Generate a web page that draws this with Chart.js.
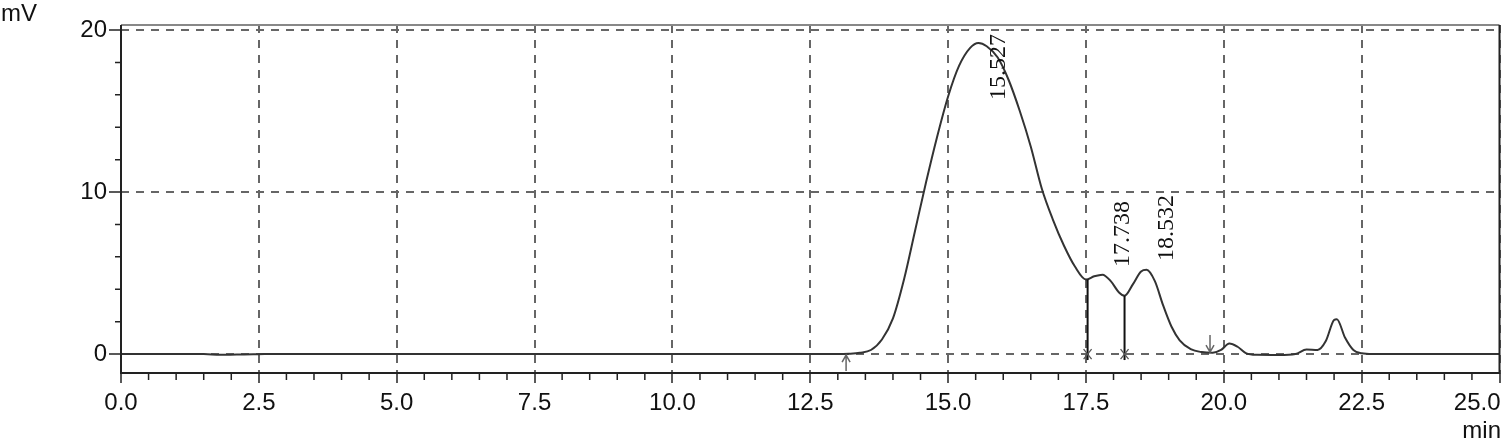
<!DOCTYPE html>
<html lang="en">
<head>
<meta charset="UTF-8">
<script src="https://cdn.jsdelivr.net/npm/chart.js@4.4.1/dist/chart.umd.min.js"></script>
<title>Chromatogram</title>
<style>
  html, body { margin: 0; padding: 0; background: #fff; }
</style>
</head>
<body>
<canvas id="chart" width="1505" height="442"></canvas>
<script>
// retention time (min) and detector signal (mV)
const times = [0, 1.5, 1.8, 2.1, 2.4, 2.6, 5, 10, 13.0, 13.2, 13.4, 13.6, 13.8, 14.0, 14.2, 14.4, 14.6, 14.8,
  15.0, 15.2, 15.4, 15.55, 15.7, 15.9, 16.1, 16.3, 16.5, 16.7, 16.9, 17.1, 17.3, 17.5, 17.65, 17.8, 17.95,
  18.1, 18.2, 18.35, 18.5, 18.6, 18.75, 18.9, 19.05, 19.2, 19.4, 19.6, 19.8, 19.95, 20.1, 20.25, 20.4,
  20.6, 21.0, 21.3, 21.5, 21.7, 21.85, 22.0, 22.05, 22.2, 22.35, 22.5, 22.7, 25];
const signal = [0, 0, -0.05, -0.03, -0.02, 0, 0, 0, 0, 0.02, 0.08, 0.25, 0.9, 2.2, 4.6, 7.6, 10.6, 13.4,
  15.9, 17.8, 18.9, 19.2, 19.0, 18.3, 16.9, 15.0, 12.8, 10.2, 8.3, 6.7, 5.4, 4.6, 4.8, 4.9, 4.5,
  3.8, 3.6, 4.3, 5.1, 5.2, 4.5, 3.0, 1.7, 0.85, 0.3, 0.12, 0.08, 0.25, 0.65, 0.45, 0.06,
  -0.05, -0.06, 0.0, 0.28, 0.25, 0.8, 2.1, 2.15, 1.0, 0.25, 0.05, 0, 0];

const xTicks = [0, 2.5, 5, 7.5, 10, 12.5, 15, 17.5, 20, 22.5, 25];
const yTicks = [0, 10, 20];

const peakLabels = ['15.527', '17.738', '18.532'];
const peakLabelX = [15.92, 18.17, 18.97];
const peakLabelY = [15.68, 5.37, 5.74];

const dropTimes = [17.53, 18.2];
const dropLevels = [4.6, 3.6];
const startTime = 13.15;
const endTime = 19.75;

const sans = '"Liberation Sans", Arial, sans-serif';
const serif = '"Liberation Serif", "Times New Roman", serif';

const extras = {
  id: 'extras',
  afterDatasetsDraw(chart) {
    const ctx = chart.ctx;
    const xs = chart.scales.x, ys = chart.scales.y;
    const area = chart.chartArea;
    const y0 = ys.getPixelForValue(0);
    ctx.save();

    // minor ticks
    ctx.strokeStyle = '#222';
    ctx.lineWidth = 1.5;
    ctx.beginPath();
    for (let v = 0.5; v < 25; v += 0.5) {
      if (xTicks.includes(v)) continue;
      const px = xs.getPixelForValue(v);
      ctx.moveTo(px, area.bottom);
      ctx.lineTo(px, area.bottom + 7);
    }
    for (let v = 2; v < 20; v += 2) {
      if (yTicks.includes(v)) continue;
      const py = ys.getPixelForValue(v);
      ctx.moveTo(area.left - 6, py);
      ctx.lineTo(area.left, py);
    }
    ctx.stroke();

    // drop lines with x marks
    dropTimes.forEach((t, i) => {
      const px = xs.getPixelForValue(t);
      ctx.strokeStyle = '#111';
      ctx.lineWidth = 2;
      ctx.beginPath();
      ctx.moveTo(px, ys.getPixelForValue(dropLevels[i]));
      ctx.lineTo(px, y0 + 6);
      ctx.stroke();
      ctx.lineWidth = 1.3;
      ctx.strokeStyle = '#555';
      ctx.beginPath();
      ctx.moveTo(px - 4, y0 - 5); ctx.lineTo(px + 4, y0 + 5);
      ctx.moveTo(px + 4, y0 - 5); ctx.lineTo(px - 4, y0 + 5);
      ctx.stroke();
    });

    // start / end arrows
    ctx.strokeStyle = '#666';
    ctx.lineWidth = 1.5;
    let px = xs.getPixelForValue(startTime);
    ctx.beginPath();
    ctx.moveTo(px, y0 + 17); ctx.lineTo(px, y0 + 1);
    ctx.moveTo(px - 4, y0 + 8); ctx.lineTo(px, y0 + 1); ctx.lineTo(px + 4, y0 + 8);
    ctx.stroke();
    px = xs.getPixelForValue(endTime);
    ctx.beginPath();
    ctx.moveTo(px, y0 - 19); ctx.lineTo(px, y0 - 2);
    ctx.moveTo(px - 4, y0 - 9); ctx.lineTo(px, y0 - 2); ctx.lineTo(px + 4, y0 - 9);
    ctx.stroke();

    // peak labels
    ctx.fillStyle = '#111';
    ctx.font = '24px ' + serif;
    ctx.textAlign = 'left';
    ctx.textBaseline = 'middle';
    peakLabels.forEach((s, i) => {
      ctx.save();
      ctx.translate(xs.getPixelForValue(peakLabelX[i]), ys.getPixelForValue(peakLabelY[i]));
      ctx.rotate(-Math.PI / 2);
      ctx.fillText(s, 0, 0);
      ctx.restore();
    });

    // frame: grey top, dark sides and bottom
    ctx.lineWidth = 2;
    ctx.strokeStyle = '#888';
    ctx.beginPath();
    ctx.moveTo(area.left, area.top); ctx.lineTo(area.right, area.top);
    ctx.stroke();
    ctx.strokeStyle = '#222';
    ctx.beginPath();
    ctx.moveTo(area.left, area.top); ctx.lineTo(area.left, area.bottom);
    ctx.lineTo(area.right, area.bottom); ctx.lineTo(area.right, area.top);
    ctx.stroke();

    // x tick labels and unit labels
    ctx.font = '24px ' + sans;
    ctx.textBaseline = 'alphabetic';
    xs.ticks.forEach((tk, i) => {
      const tx = xs.getPixelForValue(tk.value);
      const last = i === xs.ticks.length - 1;
      ctx.textAlign = last ? 'right' : 'center';
      ctx.fillText(tk.value.toFixed(1), last ? tx + 1 : tx, 410);
    });
    ctx.textAlign = 'left';
    ctx.fillText('mV', 1, 21);
    ctx.textAlign = 'right';
    ctx.fillText('min', 1501, 438);
    ctx.restore();
  }
};

new Chart(document.getElementById('chart'), {
  type: 'line',
  data: {
    datasets: [{
      data: times.map((t, i) => ({ x: t, y: signal[i] })),
      borderColor: '#333',
      borderWidth: 2,
      pointRadius: 0,
      cubicInterpolationMode: 'monotone',
      fill: false
    }]
  },
  options: {
    responsive: false,
    animation: false,
    devicePixelRatio: 1,
    layout: { padding: { left: 0, top: 25, right: 5.5, bottom: 0 } },
    plugins: { legend: { display: false }, tooltip: { enabled: false } },
    scales: {
      x: {
        type: 'linear',
        min: 0,
        max: 25,
        afterBuildTicks: s => { s.ticks = xTicks.map(v => ({ value: v })); },
        afterFit: s => { s.height = 69; s.paddingLeft = 0; s.paddingRight = 0; },
        ticks: { display: false },
        grid: { color: '#666', lineWidth: 2, drawTicks: true, tickLength: 10,
                tickColor: '#222', tickWidth: 1.5, tickBorderDash: [] },
        border: { display: false, dash: [8, 7] }
      },
      y: {
        min: -1.17,
        max: 20.31,
        afterBuildTicks: s => { s.ticks = yTicks.map(v => ({ value: v })); },
        afterFit: s => { s.width = 121; s.paddingTop = 0; s.paddingBottom = 0; },
        ticks: { color: '#111', font: { family: sans, size: 24 }, padding: 2 },
        grid: { color: '#666', lineWidth: 2, drawTicks: true, tickLength: 12,
                tickColor: '#222', tickWidth: 1.5, tickBorderDash: [] },
        border: { display: false, dash: [8, 7] }
      }
    }
  },
  plugins: [extras]
});
</script>
</body>
</html>
